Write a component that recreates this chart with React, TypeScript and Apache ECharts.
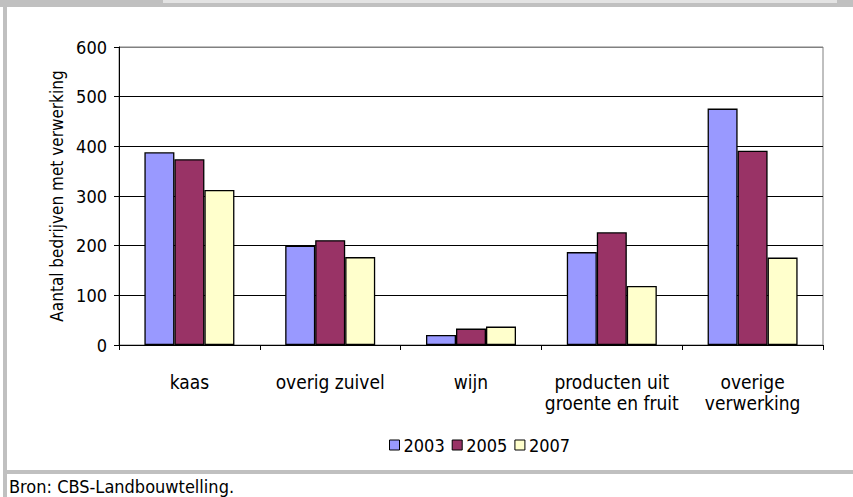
import React, { useEffect, useRef } from "react";
import * as echarts from "echarts";

const categories = ["kaas", "overig zuivel", "wijn", "producten uit\ngroente en fruit", "overige\nverwerking"];
const seriesNames = ["2003", "2005", "2007"];
const values2003 = [388, 200, 20, 187, 476];
const values2005 = [374, 211, 33, 227, 391];
const values2007 = [312, 177, 37, 119, 176];
const colors = ["#9999ff", "#993366", "#ffffcc"];
const yTicks = { min: 0, max: 600, interval: 100 };
const yName = "Aantal bedrijven met verwerking";
const source = "Bron: CBS-Landbouwtelling.";

const FONT = "'DejaVu Sans Condensed', 'Liberation Sans', sans-serif";

export default function App() {
  const ref = useRef<HTMLDivElement>(null);
  useEffect(() => {
    if (!ref.current) return;
    const chart = echarts.init(ref.current, null, { renderer: "svg" });
    const data = [values2003, values2005, values2007];
    chart.setOption({
      animation: false,
      backgroundColor: "#ffffff",
      textStyle: { fontFamily: FONT },
      grid: {
        left: 119,
        top: 47,
        right: 30,
        bottom: 152,
        show: true,
        borderColor: "#808080",
        borderWidth: 1,
        backgroundColor: "transparent",
      },
      legend: {
        left: 384,
        top: 431,
        itemWidth: 10,
        itemHeight: 10,
        itemGap: 7,
        icon: "rect",
        textStyle: { fontFamily: FONT, fontSize: 18, color: "#000", padding: [0, 0, 0, -1] },
        itemStyle: { borderColor: "#000", borderWidth: 1 },
        data: seriesNames,
      },
      xAxis: {
        type: "category",
        data: categories,
        axisLine: { show: true, lineStyle: { color: "#000", width: 1 } },
        axisTick: { show: true, length: 5, lineStyle: { color: "#000" } },
        axisLabel: {
          fontFamily: FONT,
          fontSize: 19,
          color: "#000",
          margin: 26,
          lineHeight: 21,
          interval: 0,
        },
      },
      yAxis: {
        type: "value",
        min: yTicks.min,
        max: yTicks.max,
        interval: yTicks.interval,
        name: yName,
        nameLocation: "middle",
        nameGap: 46,
        nameRotate: 90,
        nameTextStyle: { fontFamily: FONT, fontSize: 17, color: "#000" },
        axisLine: { show: true, lineStyle: { color: "#000", width: 1 } },
        axisTick: { show: true, length: 5, lineStyle: { color: "#000" } },
        axisLabel: { fontFamily: FONT, fontSize: 18, color: "#000", margin: 12 },
        splitLine: {
          show: true,
          lineStyle: { color: ["#000", "#000", "#000", "#000", "#000", "#000", "#808080"], width: 1 },
        },
      },
      series: seriesNames.map((name, i) => ({
        name,
        type: "bar",
        data: data[i],
        barWidth: 30,
        barGap: "0%",
        itemStyle: { color: colors[i], borderColor: "#000", borderWidth: 1.3 },
      })),
      graphic: [
        { type: "rect", shape: { x: 0, y: 0, width: 853, height: 7 }, style: { fill: "#c0c0c0" }, silent: true },
        { type: "rect", shape: { x: 163, y: 0, width: 674, height: 3 }, style: { fill: "#e3e3e3" }, silent: true },
        { type: "rect", shape: { x: 3, y: 0, width: 4, height: 497 }, style: { fill: "#c0c0c0" }, silent: true },
        { type: "rect", shape: { x: 7, y: 470, width: 846, height: 4 }, style: { fill: "#c0c0c0" }, silent: true },
        {
          type: "text",
          left: 9,
          top: 477,
          style: { text: source, fontFamily: FONT, fontSize: 18, fill: "#000" },
          silent: true,
        },
      ],
    });
    return () => chart.dispose();
  }, []);
  return (
    <div
      ref={ref}
      style={{ position: "fixed", left: 0, top: 0, width: 853, height: 497, background: "#fff" }}
    />
  );
}
